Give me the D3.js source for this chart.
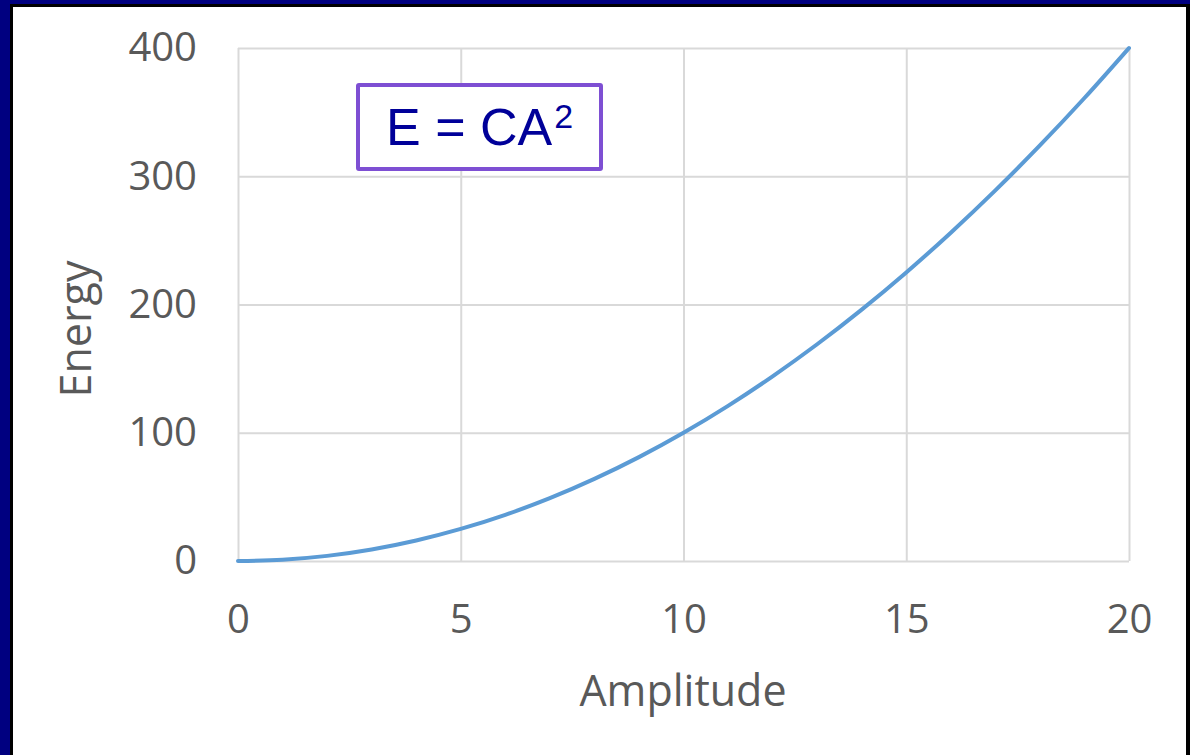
<!DOCTYPE html>
<html>
<head>
<meta charset="utf-8">
<script src="https://cdn.jsdelivr.net/npm/d3@7"></script>
<style>
  html, body { margin: 0; padding: 0; background: #000080; }
  svg { display: block; }
</style>
</head>
<body>
<svg id="chart" width="1190" height="755"></svg>
<script>
// Data
const amplitude = [0, 1, 2, 3, 4, 5, 6, 7, 8, 9, 10, 11, 12, 13, 14, 15, 16, 17, 18, 19, 20];
const energy = [0, 1, 4, 9, 16, 25, 36, 49, 64, 81, 100, 121, 144, 169, 196, 225, 256, 289, 324, 361, 400];
const xTicks = [0, 5, 10, 15, 20];
const yTicks = [0, 100, 200, 300, 400];
const xTitle = "Amplitude";
const yTitle = "Energy";

const svg = d3.select("#chart");
const W = 1190, H = 755;

// frame: navy outer, black inner line, white panel
svg.append("rect").attr("x", 0).attr("y", 0).attr("width", W).attr("height", H).attr("fill", "#000080");
svg.append("rect").attr("x", 10).attr("y", 4).attr("width", W - 10).attr("height", H - 4).attr("fill", "#000000");
svg.append("rect").attr("x", 13).attr("y", 7).attr("width", W - 13 - 4).attr("height", H - 7).attr("fill", "#ffffff");

const x = d3.scaleLinear().domain([0, 20]).range([238, 1129]);
const y = d3.scaleLinear().domain([0, 400]).range([561, 48]);

const font = "'Open Sans', 'Noto Sans', sans-serif";
const grid = "#d9d9d9";
const labelColor = "#595959";

// horizontal gridlines
const gy = svg.append("g").attr("transform", "translate(238,0)")
  .call(d3.axisLeft(y).tickValues(yTicks).tickSize(-(1129 - 238)).tickFormat(""));
gy.selectAll("line").attr("stroke", grid).attr("stroke-width", 2);
gy.select(".domain").remove();

// vertical gridlines
const gx = svg.append("g").attr("transform", "translate(0,561)")
  .call(d3.axisBottom(x).tickValues(xTicks).tickSize(-(561 - 48)).tickFormat(""));
gx.selectAll("line").attr("stroke", grid).attr("stroke-width", 2);
gx.select(".domain").remove();

// y tick labels
const ya = svg.append("g").attr("transform", "translate(238,0)")
  .call(d3.axisLeft(y).tickValues(yTicks).tickSize(0).tickPadding(41).tickFormat(d3.format("d")));
ya.select(".domain").remove();
ya.selectAll("text").attr("font-family", font).attr("font-size", 40).attr("fill", labelColor);

// x tick labels
const xa = svg.append("g").attr("transform", "translate(0,561)")
  .call(d3.axisBottom(x).tickValues(xTicks).tickSize(0).tickPadding(44).tickFormat(d3.format("d")));
xa.select(".domain").remove();
xa.selectAll("text").attr("font-family", font).attr("font-size", 40).attr("fill", labelColor);

// axis titles
svg.append("text").attr("x", 683).attr("y", 706).attr("text-anchor", "middle")
  .attr("font-family", font).attr("font-size", 43).attr("fill", labelColor).text(xTitle);
svg.append("text").attr("transform", "translate(91,329) rotate(-90)").attr("text-anchor", "middle")
  .attr("font-family", font).attr("font-size", 43).attr("fill", labelColor).text(yTitle);

// curve
const line = d3.line().x((d, i) => x(amplitude[i])).y(d => y(d)).curve(d3.curveMonotoneX);
svg.append("path").datum(energy).attr("d", line).attr("fill", "none")
  .attr("stroke", "#5b9bd5").attr("stroke-width", 4).attr("stroke-linecap", "round");

// formula box
svg.append("rect").attr("x", 358).attr("y", 85).attr("width", 243).attr("height", 84)
  .attr("fill", "#ffffff").attr("stroke", "#7e4fd3").attr("stroke-width", 4).attr("rx", 1);
const ft = svg.append("text").attr("x", 386).attr("y", 145)
  .attr("font-family", "'Liberation Sans', Arial, sans-serif").attr("font-size", 52).attr("fill", "#000099");
ft.append("tspan").text("E = CA");
ft.append("tspan").attr("dx", 2).attr("dy", -17).attr("font-size", 34).text("2");
</script>
</body>
</html>
